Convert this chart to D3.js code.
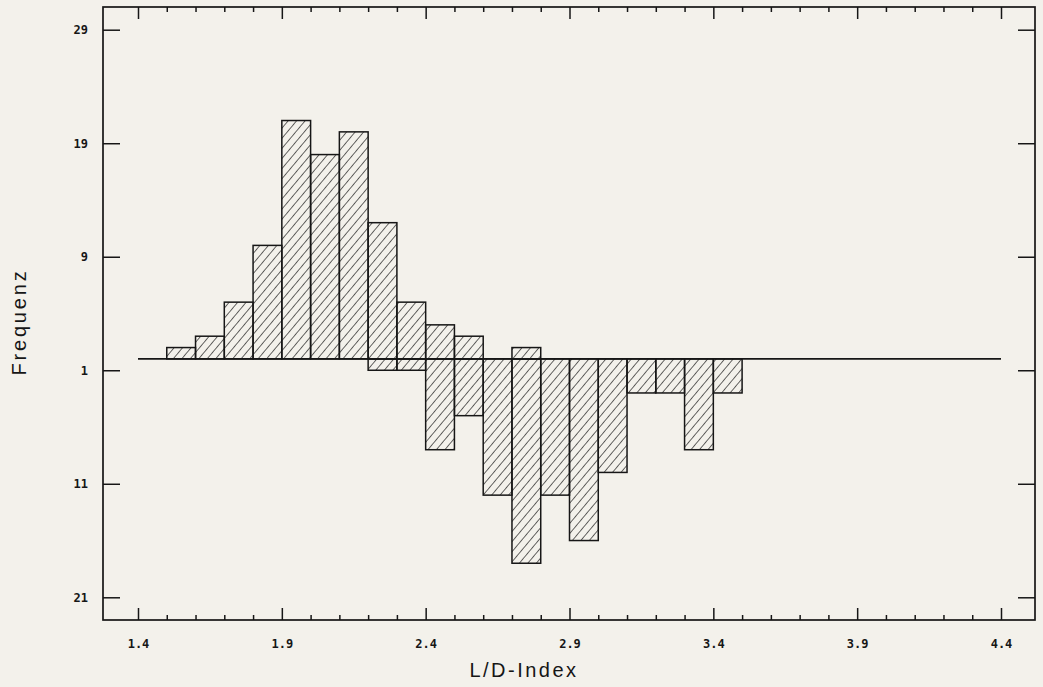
<!DOCTYPE html>
<html>
<head>
<meta charset="utf-8">
<script src="https://cdn.jsdelivr.net/npm/d3@7"></script>
<style>
  html, body { margin: 0; padding: 0; background: #f3f1eb; }
  svg { display: block; }
</style>
</head>
<body>
<div id="wrapper"></div>
<script>
// Data: bin start (L/D-Index), counts above and below the line
const binStarts = [1.5, 1.6, 1.7, 1.8, 1.9, 2.0, 2.1, 2.2, 2.3, 2.4, 2.5, 2.6, 2.7, 2.8, 2.9, 3.0, 3.1, 3.2, 3.3, 3.4];
const upCounts = [1, 2, 5, 10, 21, 18, 20, 12, 5, 3, 2, 0, 1, 0, 0, 0, 0, 0, 0, 0];
const downCounts = [0, 0, 0, 0, 0, 0, 0, 1, 1, 8, 5, 12, 18, 12, 16, 10, 3, 3, 8, 3];
const binWidth = 0.1;

const xMajorTicks = [1.4, 1.9, 2.4, 2.9, 3.4, 3.9, 4.4];
const yTicks = [-21, -11, -1, 9, 19, 29];

const dimensions = {
  width: 1043,
  height: 687,
  margin: { top: 7, right: 8, bottom: 67, left: 103 },
};
dimensions.boundedWidth = dimensions.width - dimensions.margin.left - dimensions.margin.right;
dimensions.boundedHeight = dimensions.height - dimensions.margin.top - dimensions.margin.bottom;

const ink = "#161616";

const wrapper = d3
  .select("#wrapper")
  .append("svg")
  .attr("width", dimensions.width)
  .attr("height", dimensions.height);

wrapper
  .append("rect")
  .attr("width", dimensions.width)
  .attr("height", dimensions.height)
  .attr("fill", "#f3f1eb");

// Hatch pattern
const defs = wrapper.append("defs");
defs
  .append("pattern")
  .attr("id", "hatch")
  .attr("patternUnits", "userSpaceOnUse")
  .attr("width", 6.5)
  .attr("height", 6.5)
  .attr("patternTransform", "rotate(40)")
  .append("line")
  .attr("x1", 0)
  .attr("y1", 0)
  .attr("x2", 0)
  .attr("y2", 6.5)
  .attr("stroke", ink)
  .attr("stroke-width", 1.3);

const bound = wrapper
  .append("g")
  .attr("transform", `translate(${dimensions.margin.left}, ${dimensions.margin.top})`);

// Create scales
const xScale = d3
  .scaleLinear()
  .domain([1.4, 4.4])
  .range([35, 898]);

const yScale = d3
  .scaleLinear()
  .domain([-23, 31])
  .range([dimensions.boundedHeight, 0]);

// Bars
const bins = binStarts.map((b, i) => ({ start: b, up: upCounts[i], down: downCounts[i] }));

const barAttrs = (sel) =>
  sel
    .attr("fill", "url(#hatch)")
    .attr("stroke", ink)
    .attr("stroke-width", 1.5);

bound
  .append("g")
  .selectAll("rect")
  .data(bins.filter((d) => d.up > 0))
  .join("rect")
  .attr("x", (d) => xScale(d.start))
  .attr("width", (d) => xScale(d.start + binWidth) - xScale(d.start))
  .attr("y", (d) => yScale(d.up))
  .attr("height", (d) => yScale(0) - yScale(d.up))
  .call(barAttrs);

bound
  .append("g")
  .selectAll("rect")
  .data(bins.filter((d) => d.down > 0))
  .join("rect")
  .attr("x", (d) => xScale(d.start))
  .attr("width", (d) => xScale(d.start + binWidth) - xScale(d.start))
  .attr("y", yScale(0))
  .attr("height", (d) => yScale(-d.down) - yScale(0))
  .call(barAttrs);

// Zero line
bound
  .append("line")
  .attr("x1", xScale(1.4))
  .attr("x2", xScale(4.4))
  .attr("y1", yScale(0))
  .attr("y2", yScale(0))
  .attr("stroke", ink)
  .attr("stroke-width", 1.6);

// Draw peripherals
const minorTicks = d3.range(1.5, 4.35, 0.1).filter(
  (v) => !xMajorTicks.some((m) => Math.abs(m - v) < 1e-6)
);

const styleAxis = (g) => {
  g.select(".domain").remove();
  g.selectAll(".tick line").attr("stroke", ink).attr("stroke-width", 1.5);
};

const styleLabels = (g) =>
  g
    .selectAll(".tick text")
    .attr("fill", ink)
    .style("font-family", "'DejaVu Sans Mono', monospace")
    .style("font-size", "12px")
    .style("font-weight", "bold");

bound
  .append("g")
  .attr("transform", `translate(0, ${dimensions.boundedHeight})`)
  .call(d3.axisBottom(xScale).tickValues(minorTicks).tickSize(-5).tickFormat(""))
  .call(styleAxis);

bound
  .append("g")
  .attr("transform", `translate(0, ${dimensions.boundedHeight})`)
  .call(
    d3.axisBottom(xScale)
      .tickValues(xMajorTicks)
      .tickSize(-12)
      .tickPadding(19)
      .tickFormat(d3.format(".1f"))
  )
  .call(styleAxis)
  .call(styleLabels);

bound
  .append("g")
  .call(d3.axisTop(xScale).tickValues(minorTicks).tickSize(-5).tickFormat(""))
  .call(styleAxis);

bound
  .append("g")
  .call(d3.axisTop(xScale).tickValues(xMajorTicks).tickSize(-12).tickFormat(""))
  .call(styleAxis);

bound
  .append("g")
  .call(
    d3.axisLeft(yScale)
      .tickValues(yTicks)
      .tickSize(-17)
      .tickPadding(15)
      .tickFormat((d) => Math.abs(d))
  )
  .call(styleAxis)
  .call(styleLabels);

bound
  .append("g")
  .attr("transform", `translate(${dimensions.boundedWidth}, 0)`)
  .call(d3.axisRight(yScale).tickValues(yTicks).tickSize(-17).tickFormat(""))
  .call(styleAxis);

// Frame
bound
  .append("rect")
  .attr("width", dimensions.boundedWidth)
  .attr("height", dimensions.boundedHeight)
  .attr("fill", "none")
  .attr("stroke", ink)
  .attr("stroke-width", 1.7);

// Axis titles
wrapper
  .append("text")
  .attr("x", 524)
  .attr("y", 677)
  .attr("text-anchor", "middle")
  .attr("fill", ink)
  .style("font-family", "'Liberation Sans', Arial, sans-serif")
  .style("font-size", "20px")
  .style("letter-spacing", "2.5px")
  .text("L/D-Index");

wrapper
  .append("text")
  .attr("transform", "translate(26, 322) rotate(-90)")
  .attr("text-anchor", "middle")
  .attr("fill", ink)
  .style("font-family", "'Liberation Sans', Arial, sans-serif")
  .style("font-size", "20px")
  .style("letter-spacing", "2.8px")
  .text("Frequenz");
</script>
</body>
</html>
